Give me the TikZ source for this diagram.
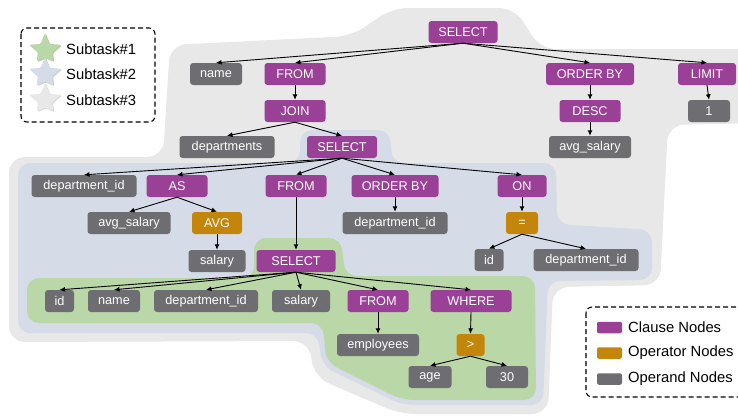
\documentclass[tikz,border=0pt]{standalone}
\usepackage{fontspec}
\setmainfont{Liberation Sans}
\usetikzlibrary{arrows.meta}
\definecolor{clausec}{HTML}{9A4096}
\definecolor{operc}{HTML}{C4860A}
\definecolor{operandc}{HTML}{6E6E72}
\definecolor{graybg}{HTML}{E8E8E8}
\definecolor{bluebg}{HTML}{D5DCE7}
\definecolor{greenbg}{HTML}{BAD7A8}
\begin{document}
\begin{tikzpicture}[x=1pt,y=-1pt,
  nd/.style={rounded corners=3pt, minimum height=22pt, inner sep=0pt, text=white,
    font=\fontsize{12.7}{14}\selectfont, minimum width=#1},
  clause/.style={nd=#1, fill=clausec},
  oper/.style={nd=#1, fill=operc},
  operand/.style={nd=#1, fill=operandc},
  arr/.style={-{Latex[length=5.5pt,width=5pt]}, line width=0.9pt, black},
  legbox/.style={line width=1.1pt, dash pattern=on 5pt off 3pt, rounded corners=6pt},
  legtxt/.style={anchor=west, inner sep=0pt, font=\fontsize{14.8}{16}\selectfont},
  swatch/.style={rounded corners=2pt, minimum width=25pt, minimum height=11.5pt, inner sep=0pt}]
\useasboundingbox (0,0) rectangle (738,416);
\clip (0,0) rectangle (738,416);

% ---- subtask regions ----
\fill[graybg, rounded corners=16pt] (450,8) -- (515,8) -- (540,49) -- (760,49) -- (760,123)
  -- (668,125) -- (660,285) -- (553,287) -- (548,414) -- (400,414) -- (314,377) -- (309,341)
  -- (9,342) -- (9,157) -- (163,157) -- (170,45) -- (352,36) -- (392,8) -- cycle;
\fill[bluebg, rounded corners=12pt] (340,130) -- (390,130) -- (392,163) -- (556,163)
  -- (557,224) -- (652,230) -- (652,280) -- (548,281) -- (543,405) -- (402,405)
  -- (322,366) -- (318,333) -- (18,333) -- (18,163) -- (300,163) -- (300,130) -- cycle;
\fill[greenbg, rounded corners=12pt] (300,238) -- (341,238) -- (345,276) -- (535,276)
  -- (536,400) -- (402,400) -- (326,362) -- (323,323) -- (27,323) -- (27,278)
  -- (254,278) -- (254,238) -- cycle;

% ---- nodes ----
\node[clause=69] (sel1) at (463,32) {SELECT};
\node[operand=52] (name1) at (216,74) {name};
\node[clause=61] (from1) at (295,74) {FROM};
\node[clause=88] (ord1) at (590,74) {ORDER BY};
\node[clause=58] (limit) at (707,74) {LIMIT};
\node[clause=61] (join) at (295,111) {JOIN};
\node[clause=61] (desc) at (590,111) {DESC};
\node[operand=42] (one) at (709,111) {1};
\node[operand=95] (depts) at (227,147) {departments};
\node[clause=70] (sel2) at (342,147) {SELECT};
\node[operand=82] (avgsal1) at (590,147) {avg\_salary};
\node[operand=105] (did1) at (84,186) {department\_id};
\node[clause=61] (as) at (177,186) {AS};
\node[clause=61] (from2) at (296,186) {FROM};
\node[clause=87] (ord2) at (395,186) {ORDER BY};
\node[clause=49] (on) at (522,186) {ON};
\node[operand=83] (avgsal2) at (129,223) {avg\_salary};
\node[oper=50] (avg) at (217,223) {AVG};
\node[operand=105] (did2) at (395,223) {department\_id};
\node[oper=32] (eq) at (522,223) {=};
\node[operand=57] (salary1) at (217,261) {salary};
\node[clause=79] (sel3) at (296,261) {SELECT};
\node[operand=29] (id1) at (489,260) {id};
\node[operand=105] (did3) at (586,260) {department\_id};
\node[operand=29] (id2) at (59.5,301) {id};
\node[operand=52] (name2) at (114,301) {name};
\node[operand=104] (did4) at (206,301) {department\_id};
\node[operand=58] (salary2) at (301,301) {salary};
\node[clause=61] (from3) at (378,301) {FROM};
\node[clause=81] (where) at (471,301) {WHERE};
\node[operand=82] (emp) at (378,345) {employees};
\node[oper=28] (gt) at (470.5,345) {>};
\node[operand=43] (age) at (430,377) {age};
\node[operand=42] (thirty) at (507,377) {30};

% ---- edges ----
\foreach \c in {name1,from1,ord1,limit} \draw[arr] (sel1.south) -- (\c.north);
\draw[arr] (from1.south) -- (join.north);
\draw[arr] (ord1.south) -- (desc.north);
\draw[arr] (desc.south) -- (avgsal1.north);
\draw[arr] (limit.south) -- (one.north);
\foreach \c in {depts,sel2} \draw[arr] (join.south) -- (\c.north);
\foreach \c in {did1,as,from2,ord2,on} \draw[arr] (sel2.south) -- (\c.north);
\foreach \c in {avgsal2,avg} \draw[arr] (as.south) -- (\c.north);
\draw[arr] (avg.south) -- (salary1.north);
\draw[arr] (from2.south) -- (sel3.north);
\draw[arr] (ord2.south) -- (did2.north);
\draw[arr] (on.south) -- (eq.north);
\foreach \c in {id1,did3} \draw[arr] (eq.south) -- (\c.north);
\foreach \c in {id2,name2,did4,salary2,from3,where} \draw[arr] (sel3.south) -- (\c.north);
\draw[arr] (from3.south) -- (emp.north);
\draw[arr] (where.south) -- (gt.north);
\foreach \c in {age,thirty} \draw[arr] (gt.south) -- (\c.north);

% ---- legend: subtasks ----
\draw[legbox] (21,28) rectangle (155,122);
\foreach \cy/\col in {50/greenbg,74/bluebg,100/graybg}{
  \fill[\col!85!gray, shift={(46,\cy+0.8)}, rounded corners=1.2pt]
    (-90:17) -- (-54:7.5) -- (-18:17) -- (18:7.5) -- (54:14) -- (90:7.5)
    -- (126:14) -- (162:7.5) -- (198:17) -- (234:7.5) -- cycle;
  \fill[\col, shift={(45,\cy)}, rounded corners=1.2pt]
    (-90:17) -- (-54:7.5) -- (-18:17) -- (18:7.5) -- (54:14) -- (90:7.5)
    -- (126:14) -- (162:7.5) -- (198:17) -- (234:7.5) -- cycle;
}
\node[legtxt] (lt1) at (66,49) {Subtask\#1};
\node[legtxt] (lt2) at (66,74) {Subtask\#2};
\node[legtxt] (lt3) at (66,100) {Subtask\#3};

% ---- legend: node kinds ----
\draw[legbox] (586,307) rectangle (770,397);
\node[swatch, fill=clausec] (sw1) at (609.5,327.5) {};
\node[swatch, fill=operc] (sw2) at (609.5,353) {};
\node[swatch, fill=operandc] (sw3) at (609.5,379) {};
\node[legtxt] (lk1) at (628,327.5) {Clause Nodes};
\node[legtxt] (lk2) at (628,353) {Operator Nodes};
\node[legtxt] (lk3) at (628,379) {Operand Nodes};
\end{tikzpicture}
\end{document}
